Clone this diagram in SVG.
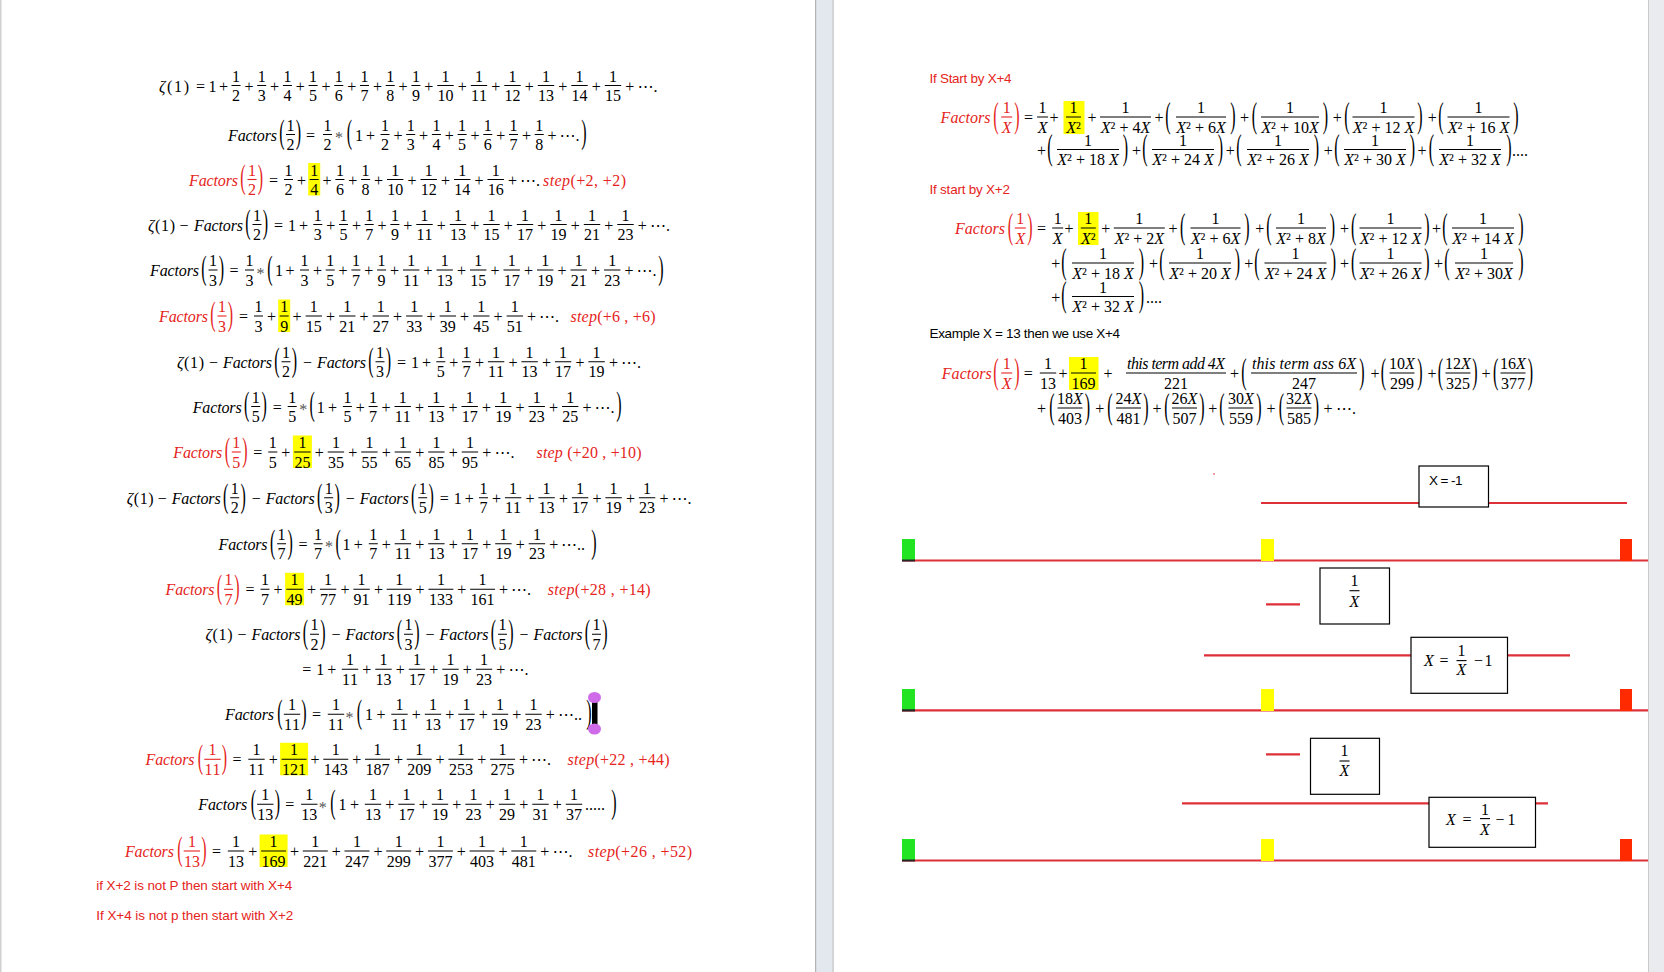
<svg xmlns="http://www.w3.org/2000/svg" width="1664" height="972" viewBox="0 0 1664 972">
<style>
.m text{font-family:"Liberation Serif","DejaVu Serif","DejaVu Sans",serif;font-size:16px;text-anchor:middle}
.m text.s{text-anchor:start}
.i{font-style:italic}
.r{fill:#e52421}
.b{stroke:#000;stroke-width:1.1;fill:none}
.rb{stroke:#e52421;stroke-width:1.1;fill:none}
.hl{fill:#ffff00}
.c{font-family:"Liberation Sans",Arial,sans-serif;font-size:13.5px}
.ln{stroke:#dd3039;stroke-width:2.2;fill:none}
.bx{fill:#fff;stroke:#000;stroke-width:1.2}
.ast{fill:#555}
</style>
<defs>
<text id="lp" transform="scale(1,2.05)" font-family="Liberation Serif, DejaVu Serif, serif" font-size="16" text-anchor="middle">(</text>
<text id="rp" transform="scale(1,2.05)" font-family="Liberation Serif, DejaVu Serif, serif" font-size="16" text-anchor="middle">)</text>
<text id="LP" transform="scale(1,2.2)" font-family="Liberation Serif, DejaVu Serif, serif" font-size="16" text-anchor="middle">(</text>
<text id="RP" transform="scale(1,2.2)" font-family="Liberation Serif, DejaVu Serif, serif" font-size="16" text-anchor="middle">)</text>
</defs>
<g id="chrome">
<rect x="0" y="0" width="1664" height="972" fill="#fff"/>
<rect x="0" y="0" width="1.5" height="972" fill="#d0d0d0"/>
<rect x="815" y="0" width="18.5" height="972" fill="#e3e7ee"/>
<rect x="815" y="0" width="1.2" height="972" fill="#b4b4b4"/>
<rect x="832.5" y="0" width="1.2" height="972" fill="#c6c6c6"/>
<rect x="1648" y="0" width="16" height="972" fill="#e9ebef"/>
<rect x="1648" y="0" width="1" height="972" fill="#cacaca"/>
</g>

<g id="page-left" class="m">
<g id="eq1">
<text class="s" x="159" y="91.5" textLength="30"><tspan class="i">ζ</tspan>(1)</text>
<text x="200.5 212.5" y="91.5">=1</text>
<text x="223.5 248.9 274.6 300.3 326 351.7 377.4 403.1 428.8 462.3 495.8 529.3 562.8 596.3 629.8" y="91.5">+++++++++++++++</text>
<text class="s" x="637.5" y="91.5">⋯.</text>
<text x="236 261.7 287.4 313.1 338.8 364.5 390.2 415.9 445.5 479 512.5 546 579.5 613" y="81.5">11111111111111</text>
<path class="b" d="M231.5 85.5h9M257.2 85.5h9M282.9 85.5h9M308.6 85.5h9M334.3 85.5h9M360 85.5h9M385.7 85.5h9M411.4 85.5h9M437.3 85.5h16.4M470.8 85.5h16.4M504.3 85.5h16.4M537.8 85.5h16.4M571.3 85.5h16.4M604.8 85.5h16.4"/>
<text x="236 261.7 287.4 313.1 338.8 364.5 390.2 415.9 441.5 449.5 475 483 508.5 516.5 542 550 575.5 583.5 609 617" y="101">23456789101112131415</text>
</g>

<g id="eq2">
<text class="s i" x="228" y="140.5" textLength="49">Factors</text>
<use href="#lp" x="282" y="143.4"/><use href="#rp" x="298.5" y="143.4"/>
<text x="310.5" y="140.5">=</text>
<text class="ast" x="339" y="143">*</text>
<use href="#lp" x="349.5" y="143.4"/>
<text x="359" y="140.5">1</text>
<text x="370.5 397.9 423.6 449.3 475 500.7 526.4 552.1" y="140.5">++++++++</text>
<text class="s" x="559.5" y="140.5">⋯.</text>
<use href="#rp" x="584" y="143.4"/>
<text x="290.5 327.5 385 410.7 436.4 462.1 487.8 513.5 539.2" y="130.5">111111111</text>
<path class="b" d="M286 134.5h9M323 134.5h9M380.5 134.5h9M406.2 134.5h9M431.9 134.5h9M457.6 134.5h9M483.3 134.5h9M509 134.5h9M534.7 134.5h9"/>
<text x="290.5 327.5 385 410.7 436.4 462.1 487.8 513.5 539.2" y="150">222345678</text>
</g>

<g id="eq3">
<rect class="hl" x="308.2" y="163" width="12" height="32.5"/>
<g class="r"><text class="s i" x="189" y="185.5" textLength="49">Factors</text>
<use href="#lp" x="243" y="188.4"/><use href="#rp" x="260.5" y="188.4"/>
<text x="252" y="175.5">1</text><text x="252" y="195">2</text></g>
<path class="rb" d="M247.5 179.5h9"/>
<text x="273.5" y="185.5">=</text>
<text x="301.4 327.1 352.8 378.5 412 445.5 479 512.5" y="185.5">++++++++</text>
<text class="s" x="520" y="185.5">⋯.</text>
<text x="288.5 314.2 339.9 365.6 395.2 428.7 462.2 495.7" y="175.5">11111111</text>
<path class="b" d="M284 179.5h9M309.7 179.5h9M335.4 179.5h9M361.1 179.5h9M387 179.5h16.4M420.5 179.5h16.4M454 179.5h16.4M487.5 179.5h16.4"/>
<text x="288.5 314.2 339.9 365.6 391.2 399.2 424.7 432.7 458.2 466.2 491.7 499.7" y="195">246810121416</text>
<text class="s r" x="543" y="185.5" textLength="83"><tspan class="i">step</tspan>(+2, +2)</text>
</g>

<g id="eq4">
<text class="s" x="148" y="230.5" textLength="27"><tspan class="i">ζ</tspan>(1)</text>
<text x="184" y="230.5">−</text>
<text class="s i" x="194" y="230.5" textLength="49">Factors</text>
<use href="#lp" x="248" y="233.4"/><use href="#rp" x="265.5" y="233.4"/>
<text x="278.5 292" y="230.5">=1</text>
<text x="303.5 330.7 356.4 382.1 407.8 441.3 474.8 508.3 541.8 575.3 608.8 642.3" y="230.5">++++++++++++</text>
<text class="s" x="650" y="230.5">⋯.</text>
<text x="257 317.8 343.5 369.2 394.9 424.5 458 491.5 525 558.5 592 625.5" y="220.5">111111111111</text>
<path class="b" d="M252.5 224.5h9M313.3 224.5h9M339 224.5h9M364.7 224.5h9M390.4 224.5h9M416.3 224.5h16.4M449.8 224.5h16.4M483.3 224.5h16.4M516.8 224.5h16.4M550.3 224.5h16.4M583.8 224.5h16.4M617.3 224.5h16.4"/>
<text x="257 317.8 343.5 369.2 394.9 420.5 428.5 454 462 487.5 495.5 521 529 554.5 562.5 588 596 621.5 629.5" y="240">2357911131517192123</text>
</g>

<g id="eq5">
<text class="s i" x="150" y="276" textLength="49">Factors</text>
<use href="#lp" x="204" y="278.9"/><use href="#rp" x="221.5" y="278.9"/>
<text x="234" y="276">=</text>
<text class="ast" x="260.5" y="278.5">*</text>
<use href="#lp" x="270" y="278.9"/>
<text x="279" y="276">1</text>
<text x="290 317.4 343.1 368.8 394.5 428 461.5 495 528.5 562 595.5 629" y="276">++++++++++++</text>
<text class="s" x="636.5" y="276">⋯.</text>
<use href="#rp" x="661" y="278.9"/>
<text x="213 249.5 304.5 330.2 355.9 381.6 411.2 444.7 478.2 511.7 545.2 578.7 612.2" y="266">1111111111111</text>
<path class="b" d="M208.5 270h9M245 270h9M300 270h9M325.7 270h9M351.4 270h9M377.1 270h9M403 270h16.4M436.5 270h16.4M470 270h16.4M503.5 270h16.4M537 270h16.4M570.5 270h16.4M604 270h16.4"/>
<text x="213 249.5 304.5 330.2 355.9 381.6 407.2 415.2 440.7 448.7 474.2 482.2 507.7 515.7 541.2 549.2 574.7 582.7 608.2 616.2" y="285.5">33357911131517192123</text>
</g>

<g id="eq6">
<rect class="hl" x="278.2" y="299.5" width="12" height="32.5"/>
<g class="r"><text class="s i" x="159" y="322" textLength="49">Factors</text>
<use href="#lp" x="213" y="324.9"/><use href="#rp" x="230.5" y="324.9"/>
<text x="222" y="312">1</text><text x="222" y="331.5">3</text></g>
<path class="rb" d="M217.5 316h9"/>
<text x="243.5" y="322">=</text>
<text x="271.4 297.1 330.6 364.1 397.6 431.1 464.6 498.1 531.6" y="322">+++++++++</text>
<text class="s" x="539" y="322">⋯.</text>
<text x="258.5 284.2 313.8 347.3 380.8 414.3 447.8 481.3 514.8" y="312">111111111</text>
<path class="b" d="M254 316h9M279.7 316h9M305.6 316h16.4M339.1 316h16.4M372.6 316h16.4M406.1 316h16.4M439.6 316h16.4M473.1 316h16.4M506.6 316h16.4"/>
<text x="258.5 284.2 309.8 317.8 343.3 351.3 376.8 384.8 410.3 418.3 443.8 451.8 477.3 485.3 510.8 518.8" y="331.5">3915212733394551</text>
<text class="s r" x="570.5" y="322" textLength="85"><tspan class="i">step</tspan>(+6 , +6)</text>
</g>

<g id="eq7">
<text class="s" x="177" y="367.7" textLength="27"><tspan class="i">ζ</tspan>(1)</text>
<text x="213.5 307.5" y="367.7">−−</text>
<text class="s i" x="223" y="367.7" textLength="49">Factors</text>
<text class="s i" x="317" y="367.7" textLength="49">Factors</text>
<use href="#lp" x="277" y="370.6"/><use href="#rp" x="294.5" y="370.6"/>
<use href="#lp" x="371" y="370.6"/><use href="#rp" x="388.5" y="370.6"/>
<text x="401.5 415" y="367.7">=1</text>
<text x="426.5 453.7 479.4 512.9 546.4 579.9 613.4" y="367.7">+++++++</text>
<text class="s" x="621" y="367.7">⋯.</text>
<text x="286 380 440.8 466.5 496.1 529.6 563.1 596.6" y="357.7">11111111</text>
<path class="b" d="M281.5 361.7h9M375.5 361.7h9M436.3 361.7h9M462 361.7h9M487.9 361.7h16.4M521.4 361.7h16.4M554.9 361.7h16.4M588.4 361.7h16.4"/>
<text x="286 380 440.8 466.5 492.1 500.1 525.6 533.6 559.1 567.1 592.6 600.6" y="377.2">235711131719</text>
</g>

<g id="eq8">
<text class="s i" x="192.7" y="412.5" textLength="49">Factors</text>
<use href="#lp" x="246.7" y="415.4"/><use href="#rp" x="264.2" y="415.4"/>
<text x="277.2" y="412.5">=</text>
<text class="ast" x="303.2" y="415">*</text>
<use href="#lp" x="312.2" y="415.4"/>
<text x="320.7" y="412.5">1</text>
<text x="332.4 360.3 386 419.5 453 486.5 520 553.5 587" y="412.5">+++++++++</text>
<text class="s" x="594.5" y="412.5">⋯.</text>
<use href="#rp" x="619" y="415.4"/>
<text x="255.7 292.2 347.4 373.1 402.7 436.2 469.7 503.2 536.7 570.2" y="402.5">1111111111</text>
<path class="b" d="M251.2 406.5h9M287.7 406.5h9M342.9 406.5h9M368.6 406.5h9M394.5 406.5h16.4M428 406.5h16.4M461.5 406.5h16.4M495 406.5h16.4M528.5 406.5h16.4M562 406.5h16.4"/>
<text x="255.7 292.2 347.4 373.1 398.7 406.7 432.2 440.2 465.7 473.7 499.2 507.2 532.7 540.7 566.2 574.2" y="422">5557111317192325</text>
</g>

<g id="eq9">
<rect class="hl" x="292.9" y="435.5" width="19" height="32.5"/>
<g class="r"><text class="s i" x="173.3" y="458" textLength="49">Factors</text>
<use href="#lp" x="227.3" y="460.9"/><use href="#rp" x="244.8" y="460.9"/>
<text x="236.3" y="448">1</text><text x="236.3" y="467.5">5</text></g>
<path class="rb" d="M231.8 452h9"/>
<text x="257.8" y="458">=</text>
<text x="285.7 319.2 352.7 386.2 419.7 453.2 486.7" y="458">+++++++</text>
<text class="s" x="494.5" y="458">⋯.</text>
<text x="272.8 302.4 335.9 369.4 402.9 436.4 469.9" y="448">1111111</text>
<path class="b" d="M268.3 452h9M294.2 452h16.4M327.7 452h16.4M361.2 452h16.4M394.7 452h16.4M428.2 452h16.4M461.7 452h16.4"/>
<text x="272.8 298.4 306.4 331.9 339.9 365.4 373.4 398.9 406.9 432.4 440.4 465.9 473.9" y="467.5">5253555658595</text>
<text class="s r" x="536.5" y="458" textLength="105"><tspan class="i">step</tspan> (+20 , +10)</text>
</g>

<g id="eq10">
<text class="s" x="126.7" y="503.7" textLength="27"><tspan class="i">ζ</tspan>(1)</text>
<text x="162.2 256.2 350.2" y="503.7">−−−</text>
<text class="s i" x="171.7" y="503.7" textLength="49">Factors</text>
<text class="s i" x="265.7" y="503.7" textLength="49">Factors</text>
<text class="s i" x="359.7" y="503.7" textLength="49">Factors</text>
<use href="#lp" x="225.7" y="506.6"/><use href="#rp" x="243.2" y="506.6"/>
<use href="#lp" x="319.7" y="506.6"/><use href="#rp" x="337.2" y="506.6"/>
<use href="#lp" x="413.7" y="506.6"/><use href="#rp" x="431.2" y="506.6"/>
<text x="444.2 457.7" y="503.7">=1</text>
<text x="469.2 496.4 529.9 563.4 596.9 630.4 663.9" y="503.7">+++++++</text>
<text class="s" x="671.5" y="503.7">⋯.</text>
<text x="234.7 328.7 422.7 483.5 513.1 546.6 580.1 613.6 647.1" y="493.7">111111111</text>
<path class="b" d="M230.2 497.7h9M324.2 497.7h9M418.2 497.7h9M479 497.7h9M504.9 497.7h16.4M538.4 497.7h16.4M571.9 497.7h16.4M605.4 497.7h16.4M638.9 497.7h16.4"/>
<text x="234.7 328.7 422.7 483.5 509.1 517.1 542.6 550.6 576.1 584.1 609.6 617.6 643.1 651.1" y="513.2">23571113171923</text>
</g>

<g id="eq11">
<text class="s i" x="218.6" y="549.7" textLength="49">Factors</text>
<use href="#lp" x="272.6" y="552.6"/><use href="#rp" x="290.1" y="552.6"/>
<text x="303.1" y="549.7">=</text>
<text class="ast" x="329.1" y="552.2">*</text>
<use href="#lp" x="338.1" y="552.6"/>
<text x="346.6" y="549.7">1</text>
<text x="358.3 386.2 419.7 453.2 486.7 520.2 553.7" y="549.7">+++++++</text>
<text class="s" x="561" y="549.7">⋯..</text>
<use href="#rp" x="594" y="552.6"/>
<text x="281.6 318.1 373.3 402.9 436.4 469.9 503.4 536.9" y="539.7">11111111</text>
<path class="b" d="M277.1 543.7h9M313.6 543.7h9M368.8 543.7h9M394.7 543.7h16.4M428.2 543.7h16.4M461.7 543.7h16.4M495.2 543.7h16.4M528.7 543.7h16.4"/>
<text x="281.6 318.1 373.3 398.9 406.9 432.4 440.4 465.9 473.9 499.4 507.4 532.9 540.9" y="559.2">7771113171923</text>
</g>

<g id="eq12">
<rect class="hl" x="285.1" y="572.8" width="19" height="32.5"/>
<g class="r"><text class="s i" x="165.5" y="595.3" textLength="49">Factors</text>
<use href="#lp" x="219.5" y="598.2"/><use href="#rp" x="237" y="598.2"/>
<text x="228.5" y="585.3">1</text><text x="228.5" y="604.8">7</text></g>
<path class="rb" d="M224 589.3h9"/>
<text x="250" y="595.3">=</text>
<text x="277.9 311.4 344.9 378.4 420.1 461.8 503.5" y="595.3">+++++++</text>
<text class="s" x="511" y="595.3">⋯.</text>
<text x="265 294.6 328.1 361.6 399.2 440.9 482.6" y="585.3">1111111</text>
<path class="b" d="M260.5 589.3h9M286.4 589.3h16.4M319.9 589.3h16.4M353.4 589.3h16.4M386.7 589.3h25M428.4 589.3h25M470.1 589.3h25"/>
<text x="265 290.6 298.6 324.1 332.1 357.6 365.6 391.2 399.2 407.2 432.9 440.9 448.9 474.6 482.6 490.6" y="604.8">7497791119133161</text>
<text class="s r" x="547.7" y="595.3" textLength="103"><tspan class="i">step</tspan>(+28 , +14)</text>
</g>

<g id="eq13">
<text class="s" x="205.5" y="640.3" textLength="27"><tspan class="i">ζ</tspan>(1)</text>
<text x="242 336 430 524" y="640.3">−−−−</text>
<text class="s i" x="251.5" y="640.3" textLength="49">Factors</text>
<text class="s i" x="345.5" y="640.3" textLength="49">Factors</text>
<text class="s i" x="439.5" y="640.3" textLength="49">Factors</text>
<text class="s i" x="533.5" y="640.3" textLength="49">Factors</text>
<use href="#lp" x="305.5" y="643.2"/><use href="#rp" x="323" y="643.2"/>
<use href="#lp" x="399.5" y="643.2"/><use href="#rp" x="417" y="643.2"/>
<use href="#lp" x="493.5" y="643.2"/><use href="#rp" x="511" y="643.2"/>
<use href="#lp" x="587.5" y="643.2"/><use href="#rp" x="605" y="643.2"/>
<text x="314.5 408.5 502.5 596.5" y="630.3">1111</text>
<path class="b" d="M310 634.3h9M404 634.3h9M498 634.3h9M592 634.3h9"/>
<text x="314.5 408.5 502.5 596.5" y="649.8">2357</text>
</g>

<g id="eq14">
<text x="306.7 320.2" y="675.3">=1</text>
<text x="331.7 366.8 400.3 433.8 467.3 500.8" y="675.3">++++++</text>
<text class="s" x="508.5" y="675.3">⋯.</text>
<text x="350 383.5 417 450.5 484" y="665.3">11111</text>
<path class="b" d="M341.8 669.3h16.4M375.3 669.3h16.4M408.8 669.3h16.4M442.3 669.3h16.4M475.8 669.3h16.4"/>
<text x="346 354 379.5 387.5 413 421 446.5 454.5 480 488" y="684.8">1113171923</text>
</g>

<g id="eq15">
<text class="s i" x="225" y="720.3" textLength="49">Factors</text>
<use href="#lp" x="280" y="723.2"/><use href="#rp" x="304" y="723.2"/>
<text x="316.5" y="720.3">=</text>
<text class="ast" x="349.5" y="722.8">*</text>
<use href="#lp" x="359.5" y="723.2"/>
<text x="369" y="720.3">1</text>
<text x="381 416.3 449.8 483.3 516.8 550.3" y="720.3">++++++</text>
<text class="s" x="558" y="720.3">⋯..</text>
<use href="#rp" x="589" y="723.2"/>
<text x="292 336 399.5 433 466.5 500 533.5" y="710.3">1111111</text>
<path class="b" d="M283.8 714.3h16.4M327.8 714.3h16.4M391.3 714.3h16.4M424.8 714.3h16.4M458.3 714.3h16.4M491.8 714.3h16.4M525.3 714.3h16.4"/>
<text x="288 296 332 340 395.5 403.5 429 437 462.5 470.5 496 504 529.5 537.5" y="729.8">11111113171923</text>
</g>

<g id="cursor">
<rect x="592" y="700" width="5.5" height="26" fill="#000"/>
<ellipse cx="594.5" cy="697.5" rx="6.5" ry="5.5" fill="#cf6ae8"/>
<ellipse cx="594.5" cy="729" rx="6.5" ry="5.5" fill="#cf6ae8"/>
</g>

<g id="eq16">
<rect class="hl" x="280.1" y="742.8" width="28" height="32.5"/>
<g class="r"><text class="s i" x="145.5" y="765.3" textLength="49">Factors</text>
<use href="#lp" x="200.5" y="768.2"/><use href="#rp" x="224.5" y="768.2"/>
<text x="212.5" y="755.3">1</text><text x="208.5 216.5" y="774.8">11</text></g>
<path class="rb" d="M204.3 759.3h16.4"/>
<text x="237" y="765.3">=</text>
<text x="273.3 315 356.7 398.4 440.1 481.8 523.5" y="765.3">+++++++</text>
<text class="s" x="531" y="765.3">⋯.</text>
<text x="256.5 294.1 335.8 377.5 419.2 460.9 502.6" y="755.3">1111111</text>
<path class="b" d="M248.3 759.3h16.4M281.6 759.3h25M323.3 759.3h25M365 759.3h25M406.7 759.3h25M448.4 759.3h25M490.1 759.3h25"/>
<text x="252.5 260.5 286.1 294.1 302.1 327.8 335.8 343.8 369.5 377.5 385.5 411.2 419.2 427.2 452.9 460.9 468.9 494.6 502.6 510.6" y="774.8">11121143187209253275</text>
<text class="s r" x="567.6" y="765.3" textLength="102"><tspan class="i">step</tspan>(+22 , +44)</text>
</g>

<g id="eq17">
<text class="s i" x="198.3" y="810.3" textLength="49">Factors</text>
<use href="#lp" x="253.3" y="813.2"/><use href="#rp" x="277.3" y="813.2"/>
<text x="289.8" y="810.3">=</text>
<text class="ast" x="322.7" y="812.8">*</text>
<use href="#lp" x="333" y="813.2"/>
<text x="342.5" y="810.3">1</text>
<text x="354.5 389.8 423.3 456.8 490.3 523.8 557.3" y="810.3">+++++++</text>
<text class="s" x="585" y="810.3">.....</text>
<use href="#rp" x="614" y="813.2"/>
<text x="265.3 309.3 373 406.5 440 473.5 507 540.5 574" y="800.3">111111111</text>
<path class="b" d="M257.1 804.3h16.4M301.1 804.3h16.4M364.8 804.3h16.4M398.3 804.3h16.4M431.8 804.3h16.4M465.3 804.3h16.4M498.8 804.3h16.4M532.3 804.3h16.4M565.8 804.3h16.4"/>
<text x="261.3 269.3 305.3 313.3 369 377 402.5 410.5 436 444 469.5 477.5 503 511 536.5 544.5 570 578" y="819.8">131313171923293137</text>
</g>

<g id="eq18">
<rect class="hl" x="259.6" y="834.5" width="28" height="32.5"/>
<g class="r"><text class="s i" x="124.9" y="857" textLength="49">Factors</text>
<use href="#lp" x="179.9" y="859.9"/><use href="#rp" x="203.9" y="859.9"/>
<text x="191.9" y="847">1</text><text x="187.9 195.9" y="866.5">13</text></g>
<path class="rb" d="M183.7 851h16.4"/>
<text x="216.4" y="857">=</text>
<text x="252.8 294.5 336.2 377.9 419.6 461.3 503 544.7" y="857">++++++++</text>
<text class="s" x="552.5" y="857">⋯.</text>
<text x="236 273.6 315.3 357 398.7 440.4 482.1 523.8" y="847">11111111</text>
<path class="b" d="M227.8 851h16.4M261.1 851h25M302.8 851h25M344.5 851h25M386.2 851h25M427.9 851h25M469.6 851h25M511.3 851h25"/>
<text x="232 240 265.6 273.6 281.6 307.3 315.3 323.3 349 357 365 390.7 398.7 406.7 432.4 440.4 448.4 474.1 482.1 490.1 515.8 523.8 531.8" y="866.5">13169221247299377403481</text>
<text class="s r" x="588" y="857" textLength="104"><tspan class="i">step</tspan>(+26 , +52)</text>
</g>
</g>

<g id="notes-left">
<text class="c r" x="96.3" y="890" textLength="196">if X+2 is not P then start with X+4</text>
<text class="c r" x="96.3" y="920" textLength="197">If X+4 is not p then start with X+2</text>
</g>

<g id="notes-right">
<text class="c r" x="929.5" y="83" textLength="82">If Start by X+4</text>
<text class="c r" x="929.5" y="193.5" textLength="80.5">If start by X+2</text>
<text class="c" x="929.5" y="338" textLength="190.5">Example X = 13 then we use X+4</text>
</g>

<g id="page-right" class="m">
<g id="r1">
<g class="r"><text class="s i" x="940.6" y="123" textLength="50">Factors</text>
<use href="#LP" x="996" y="126.9"/><use href="#RP" x="1017" y="126.9"/>
<text x="1006.7" y="113">1</text><text class="i" x="1006.7" y="132.5">X</text></g>
<path class="rb" d="M1001.2 117h11"/>
<text x="1028.5" y="123">=</text>
<text x="1054 1092 1159 1244.6 1337.2 1432.2" y="123">++++++</text>
<rect class="hl" x="1063.5" y="101" width="21" height="33"/>
<use href="#LP" x="1168" y="126.9"/><use href="#RP" x="1233" y="126.9"/>
<use href="#LP" x="1254.5" y="126.9"/><use href="#RP" x="1325.5" y="126.9"/>
<use href="#LP" x="1347" y="126.9"/><use href="#RP" x="1420" y="126.9"/>
<use href="#LP" x="1441" y="126.9"/><use href="#RP" x="1516" y="126.9"/>
<text x="1042.6 1073.5 1125.5 1201 1290 1383.5 1478.5" y="113">1111111</text>
<path class="b" d="M1037.1 117h11M1066 117h15M1100 117h51M1176 117h50M1261 117h58M1352.5 117h62M1447.5 117h62"/>
<text class="i" x="1042.6" y="132.5">X</text>
<text x="1073.5" y="132.5"><tspan class="i">X</tspan>²</text>
<text x="1125.5" y="132.5"><tspan class="i">X</tspan>² + 4<tspan class="i">X</tspan></text>
<text x="1201" y="132.5"><tspan class="i">X</tspan>² + 6<tspan class="i">X</tspan></text>
<text x="1290" y="132.5"><tspan class="i">X</tspan>² + 10<tspan class="i">X</tspan></text>
<text x="1383.5" y="132.5"><tspan class="i">X</tspan>² + 12 <tspan class="i">X</tspan></text>
<text x="1478.5" y="132.5"><tspan class="i">X</tspan>² + 16 <tspan class="i">X</tspan></text>
</g>

<g id="r1b">
<text x="1041.4 1136.5 1230.3 1328.2 1422" y="155.5">+++++</text>
<text class="s" x="1512" y="155.5">....</text>
<use href="#LP" x="1050" y="159.4"/><use href="#RP" x="1125.5" y="159.4"/>
<use href="#LP" x="1145" y="159.4"/><use href="#RP" x="1220.5" y="159.4"/>
<use href="#LP" x="1239" y="159.4"/><use href="#RP" x="1316.5" y="159.4"/>
<use href="#LP" x="1337" y="159.4"/><use href="#RP" x="1412.5" y="159.4"/>
<use href="#LP" x="1431.5" y="159.4"/><use href="#RP" x="1509" y="159.4"/>
<text x="1088 1183 1278 1375 1470" y="145.5">11111</text>
<path class="b" d="M1057 149.5h62M1152 149.5h62M1247 149.5h62M1344 149.5h62M1439 149.5h62"/>
<text x="1088" y="165"><tspan class="i">X</tspan>² + 18 <tspan class="i">X</tspan></text>
<text x="1183" y="165"><tspan class="i">X</tspan>² + 24 <tspan class="i">X</tspan></text>
<text x="1278" y="165"><tspan class="i">X</tspan>² + 26 <tspan class="i">X</tspan></text>
<text x="1375" y="165"><tspan class="i">X</tspan>² + 30 <tspan class="i">X</tspan></text>
<text x="1470" y="165"><tspan class="i">X</tspan>² + 32 <tspan class="i">X</tspan></text>
</g>

<g id="r2">
<g class="r"><text class="s i" x="955" y="234" textLength="50">Factors</text>
<use href="#LP" x="1010.5" y="237.9"/><use href="#RP" x="1030" y="237.9"/>
<text x="1020.3" y="224">1</text><text class="i" x="1020.3" y="243.5">X</text></g>
<path class="rb" d="M1014.8 228h11"/>
<text x="1041.4" y="234">=</text>
<text x="1069 1105.8 1173 1259.7 1344.6 1436.4" y="234">++++++</text>
<rect class="hl" x="1078" y="212" width="20.5" height="33"/>
<use href="#LP" x="1182.6" y="237.9"/><use href="#RP" x="1247" y="237.9"/>
<use href="#LP" x="1269" y="237.9"/><use href="#RP" x="1332.5" y="237.9"/>
<use href="#LP" x="1353.7" y="237.9"/><use href="#RP" x="1427" y="237.9"/>
<use href="#LP" x="1445" y="237.9"/><use href="#RP" x="1521" y="237.9"/>
<text x="1057.7 1088.3 1139.3 1215.5 1301 1390.5 1483" y="224">1111111</text>
<path class="b" d="M1052.2 228h11M1080.8 228h15M1113.8 228h51M1190.5 228h50M1276 228h50M1359.5 228h62M1452 228h62"/>
<text class="i" x="1057.7" y="243.5">X</text>
<text x="1088.3" y="243.5"><tspan class="i">X</tspan>²</text>
<text x="1139.3" y="243.5"><tspan class="i">X</tspan>² + 2<tspan class="i">X</tspan></text>
<text x="1215.5" y="243.5"><tspan class="i">X</tspan>² + 6<tspan class="i">X</tspan></text>
<text x="1301" y="243.5"><tspan class="i">X</tspan>² + 8<tspan class="i">X</tspan></text>
<text x="1390.5" y="243.5"><tspan class="i">X</tspan>² + 12 <tspan class="i">X</tspan></text>
<text x="1483" y="243.5"><tspan class="i">X</tspan>² + 14 <tspan class="i">X</tspan></text>
</g>

<g id="r2b">
<text x="1055.7 1153.6 1248.7 1344.6 1438.4" y="269">+++++</text>
<use href="#LP" x="1064" y="272.9"/><use href="#RP" x="1141.5" y="272.9"/>
<use href="#LP" x="1162" y="272.9"/><use href="#RP" x="1237.5" y="272.9"/>
<use href="#LP" x="1257" y="272.9"/><use href="#RP" x="1333.5" y="272.9"/>
<use href="#LP" x="1353.7" y="272.9"/><use href="#RP" x="1427" y="272.9"/>
<use href="#LP" x="1447" y="272.9"/><use href="#RP" x="1521" y="272.9"/>
<text x="1103 1200 1295.5 1390.5 1484" y="259">11111</text>
<path class="b" d="M1072 263h62M1169 263h62M1264.5 263h62M1359.5 263h62M1455 263h58"/>
<text x="1103" y="278.5"><tspan class="i">X</tspan>² + 18 <tspan class="i">X</tspan></text>
<text x="1200" y="278.5"><tspan class="i">X</tspan>² + 20 <tspan class="i">X</tspan></text>
<text x="1295.5" y="278.5"><tspan class="i">X</tspan>² + 24 <tspan class="i">X</tspan></text>
<text x="1390.5" y="278.5"><tspan class="i">X</tspan>² + 26 <tspan class="i">X</tspan></text>
<text x="1484" y="278.5"><tspan class="i">X</tspan>² + 30<tspan class="i">X</tspan></text>
</g>

<g id="r2c">
<text x="1055.7" y="302.5">+</text>
<use href="#LP" x="1064" y="306.4"/><use href="#RP" x="1141.5" y="306.4"/>
<text x="1103" y="292.5">1</text>
<path class="b" d="M1072 296.5h62"/>
<text x="1103" y="312"><tspan class="i">X</tspan>² + 32 <tspan class="i">X</tspan></text>
<text class="s" x="1146" y="302.5">....</text>
</g>

<g id="r3">
<g class="r"><text class="s i" x="941.8" y="379" textLength="50">Factors</text>
<use href="#LP" x="996" y="382.9"/><use href="#RP" x="1017" y="382.9"/>
<text x="1006.7" y="369">1</text><text class="i" x="1006.7" y="388.5">X</text></g>
<path class="rb" d="M1001.2 373h11"/>
<text x="1028.3" y="379">=</text>
<text x="1063 1108 1234.4 1375 1432 1486" y="379">++++++</text>
<rect class="hl" x="1069" y="357" width="29.5" height="33"/>
<use href="#LP" x="1244" y="382.9"/><use href="#RP" x="1362" y="382.9"/>
<use href="#LP" x="1383.3" y="382.9"/><use href="#RP" x="1420" y="382.9"/>
<use href="#LP" x="1440.4" y="382.9"/><use href="#RP" x="1475" y="382.9"/>
<use href="#LP" x="1495.6" y="382.9"/><use href="#RP" x="1530.5" y="382.9"/>
<text x="1048 1083.5" y="369">11</text>
<text class="i" x="1176" y="369" textLength="98">this term add 4X</text>
<text class="i" x="1304" y="369" textLength="104">this term ass 6X</text>
<text x="1402" y="369">10<tspan class="i">X</tspan></text>
<text x="1458" y="369">12<tspan class="i">X</tspan></text>
<text x="1513" y="369">16<tspan class="i">X</tspan></text>
<path class="b" d="M1039.8 373h16.4M1071 373h25M1126 373h100M1251 373h106M1389.5 373h25M1445.5 373h25M1500.5 373h25"/>
<text x="1048" y="388.5">13</text>
<text x="1083.5" y="388.5">169</text>
<text x="1176" y="388.5">221</text>
<text x="1304" y="388.5">247</text>
<text x="1402" y="388.5">299</text>
<text x="1458" y="388.5">325</text>
<text x="1513" y="388.5">377</text>
</g>

<g id="r3b">
<text x="1041.4 1099.7 1157 1212.8 1271 1328" y="414">++++++</text>
<text class="s" x="1336" y="414">⋯.</text>
<use href="#LP" x="1052" y="417.9"/><use href="#RP" x="1087.5" y="417.9"/>
<use href="#LP" x="1110" y="417.9"/><use href="#RP" x="1146" y="417.9"/>
<use href="#LP" x="1167" y="417.9"/><use href="#RP" x="1202" y="417.9"/>
<use href="#LP" x="1222" y="417.9"/><use href="#RP" x="1259" y="417.9"/>
<use href="#LP" x="1281.4" y="417.9"/><use href="#RP" x="1316.5" y="417.9"/>
<text x="1070" y="404">18<tspan class="i">X</tspan></text>
<text x="1128.5" y="404">24<tspan class="i">X</tspan></text>
<text x="1184.5" y="404">26<tspan class="i">X</tspan></text>
<text x="1241" y="404">30<tspan class="i">X</tspan></text>
<text x="1299" y="404">32<tspan class="i">X</tspan></text>
<path class="b" d="M1057.5 408h25M1116 408h25M1172 408h25M1228.5 408h25M1286.5 408h25"/>
<text x="1070" y="423.5">403</text>
<text x="1128.5" y="423.5">481</text>
<text x="1184.5" y="423.5">507</text>
<text x="1241" y="423.5">559</text>
<text x="1299" y="423.5">585</text>
</g>
</g>

<g id="diagram">
<circle cx="1214" cy="474" r="0.8" fill="#e52421"/>
<g id="connectors">
<path class="ln" d="M1261 503H1627M902 560.5H1648M1266 604.3H1300M1204 655.3H1570M902 710.3H1648M1266 754.3H1300M1182 803.3H1548M902 860.5H1648"/>
</g>
<g id="markers">
<rect x="902" y="539" width="13" height="22" fill="#22e422"/>
<rect x="902" y="689" width="13" height="22" fill="#22e422"/>
<rect x="902" y="839" width="13" height="22" fill="#22e422"/>
<rect x="1261" y="539" width="13" height="22" fill="#ffff00"/>
<rect x="1261" y="689" width="13" height="22" fill="#ffff00"/>
<rect x="1261" y="839" width="13" height="22" fill="#ffff00"/>
<rect x="1620" y="539" width="12" height="22" fill="#ff2a00"/>
<rect x="1620" y="689" width="12" height="22" fill="#ff2a00"/>
<rect x="1620" y="839" width="12" height="22" fill="#ff2a00"/>
<path d="M902 560.5h13M902 710.3h13M902 860.5h13" stroke="#262626" stroke-width="2.2"/>
</g>
<g id="box-xm1">
<rect class="bx" x="1419" y="466" width="69.5" height="41"/>
<text class="c" x="1429" y="485" textLength="33.5">X = -1</text>
</g>
<g id="box-inv1" class="m">
<rect class="bx" x="1320" y="568" width="69.5" height="56"/>
<text x="1354.5" y="586">1</text>
<path class="b" d="M1349.5 590.7h10"/>
<text class="i" x="1354.5" y="606.5">X</text>
</g>
<g id="box-eq1" class="m">
<rect class="bx" x="1411" y="637.3" width="96.5" height="56"/>
<text x="1429" y="666"><tspan class="i">X</tspan></text>
<text x="1444 1478.5 1488.5" y="666">=−1</text>
<text x="1461.5" y="656">1</text>
<path class="b" d="M1456.5 660.6h10"/>
<text class="i" x="1461.5" y="675">X</text>
</g>
<g id="box-inv2" class="m">
<rect class="bx" x="1310.5" y="738.3" width="69" height="56"/>
<text x="1344.5" y="755.5">1</text>
<path class="b" d="M1339.5 761h10"/>
<text class="i" x="1344.5" y="776">X</text>
</g>
<g id="box-eq2" class="m">
<rect class="bx" x="1429" y="797.3" width="106.5" height="50"/>
<text x="1451" y="825"><tspan class="i">X</tspan></text>
<text x="1467 1500 1511.5" y="825">=−1</text>
<text x="1485" y="815">1</text>
<path class="b" d="M1480 818.6h10"/>
<text class="i" x="1485" y="834.5">X</text>
</g>
</g>
</svg>
